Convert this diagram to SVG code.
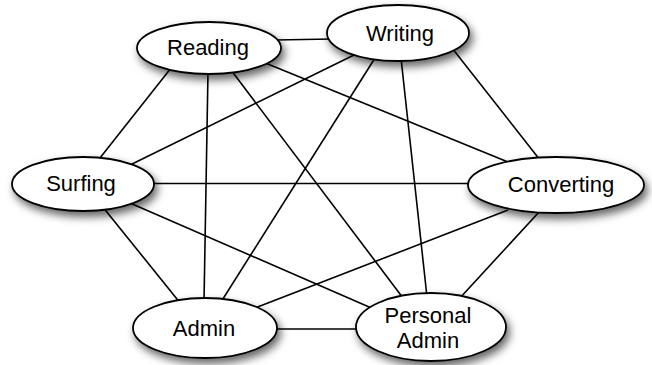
<svg xmlns="http://www.w3.org/2000/svg" width="652" height="365" viewBox="0 0 652 365">
  <defs>
    <filter id="shadow" x="-20%" y="-30%" width="150%" height="180%">
      <feDropShadow dx="3" dy="5" stdDeviation="4" flood-color="#000" flood-opacity="0.6"/>
    </filter>
  </defs>
  <style>
    .edge { stroke: #000; stroke-width: 1.6; fill: none; }
    .node ellipse { fill: #fff; stroke: #000; stroke-width: 1.8; filter: url(#shadow); }
    .node text { font-family: "Liberation Sans", Arial, sans-serif; font-size: 22px; fill: #000; text-anchor: middle; }
  </style>
  <rect width="652" height="365" fill="#fff"/>

  <!-- every activity is linked to every other one -->
  <g id="connectors">
    <line class="edge" x1="275" y1="40" x2="332" y2="39"/>
    <line class="edge" x1="175" y1="63" x2="96" y2="163"/>
    <line class="edge" x1="258" y1="60" x2="508" y2="162"/>
    <line class="edge" x1="208" y1="72" x2="204" y2="302"/>
    <line class="edge" x1="228" y1="66" x2="403" y2="298"/>
    <line class="edge" x1="354" y1="55" x2="128" y2="166"/>
    <line class="edge" x1="452" y1="48" x2="540" y2="160"/>
    <line class="edge" x1="375" y1="58" x2="221" y2="302"/>
    <line class="edge" x1="401" y1="58" x2="427" y2="297"/>
    <line class="edge" x1="150" y1="183.5" x2="472" y2="183.5"/>
    <line class="edge" x1="102" y1="206" x2="181" y2="304"/>
    <line class="edge" x1="130" y1="203" x2="376" y2="310"/>
    <line class="edge" x1="508" y1="210" x2="250" y2="310"/>
    <line class="edge" x1="540" y1="211" x2="459" y2="299"/>
    <line class="edge" x1="272" y1="329" x2="360" y2="329"/>
  </g>

  <g id="reading" class="node">
    <ellipse cx="209" cy="48" rx="72" ry="26"/>
    <text x="208" y="55">Reading</text>
  </g>
  <g id="writing" class="node">
    <ellipse cx="398" cy="33" rx="71" ry="28"/>
    <text x="400" y="41">Writing</text>
  </g>
  <g id="surfing" class="node">
    <ellipse cx="83" cy="184" rx="71" ry="27"/>
    <text x="81" y="191">Surfing</text>
  </g>
  <g id="converting" class="node">
    <ellipse cx="556" cy="185" rx="88" ry="28"/>
    <text x="561" y="192">Converting</text>
  </g>
  <g id="admin" class="node">
    <ellipse cx="205" cy="328" rx="72" ry="30"/>
    <text x="204" y="336">Admin</text>
  </g>
  <g id="personal-admin" class="node">
    <ellipse cx="431" cy="327" rx="75" ry="34"/>
    <text x="428" y="323">Personal</text>
    <text x="428" y="348">Admin</text>
  </g>
</svg>
